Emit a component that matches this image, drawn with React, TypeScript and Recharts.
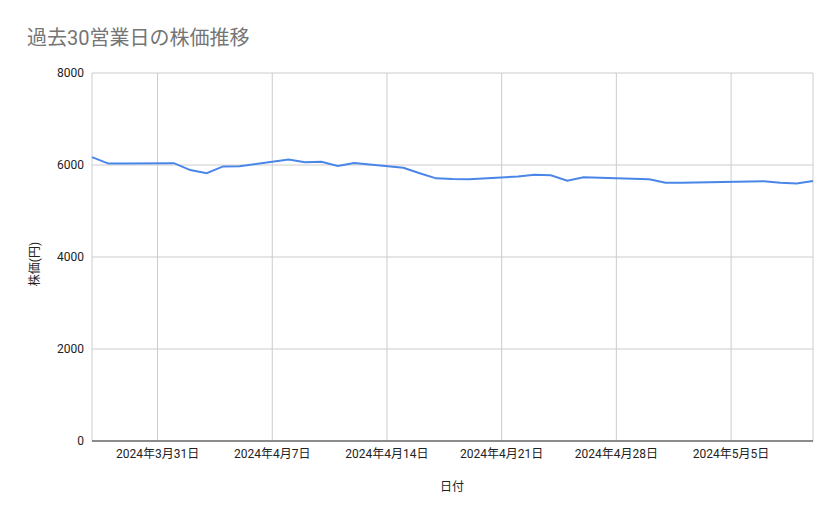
import React from "react";
import { LineChart, Line, XAxis, YAxis, CartesianGrid } from "recharts";

const dates = [
  "2024-03-27", "2024-03-28", "2024-03-29",
  "2024-04-01", "2024-04-02", "2024-04-03", "2024-04-04", "2024-04-05",
  "2024-04-08", "2024-04-09", "2024-04-10", "2024-04-11", "2024-04-12",
  "2024-04-15", "2024-04-16", "2024-04-17", "2024-04-18", "2024-04-19",
  "2024-04-22", "2024-04-23", "2024-04-24", "2024-04-25", "2024-04-26",
  "2024-04-30", "2024-05-01", "2024-05-02",
  "2024-05-07", "2024-05-08", "2024-05-09", "2024-05-10",
];

const prices = [
  6170, 6030, 6035,
  6040, 5890, 5820, 5970, 5975,
  6120, 6060, 6070, 5980, 6045,
  5940, 5820, 5710, 5695, 5690,
  5750, 5790, 5775, 5660, 5735,
  5690, 5615, 5615,
  5645, 5615, 5600, 5650,
];

const tickDates = ["2024-03-31", "2024-04-07", "2024-04-14", "2024-04-21", "2024-04-28", "2024-05-05"];
const yTicks = [0, 2000, 4000, 6000, 8000];

const title = "過去30営業日の株価推移";
const xTitle = "日付";
const yTitle = "株価(円)";

const DAY = 86400000;
const toDay = (s: string) => {
  const [y, m, d] = s.split("-").map(Number);
  return Date.UTC(y, m - 1, d) / DAY;
};
const startDay = toDay(dates[0]);
const endDay = toDay(dates[dates.length - 1]);

const data = dates.map((d, i) => ({ t: toDay(d), price: prices[i] }));
const xTicks = tickDates.map(toDay);

const fmtDate = (v: number) => {
  const dt = new Date(v * DAY);
  return `${dt.getUTCFullYear()}年${dt.getUTCMonth() + 1}月${dt.getUTCDate()}日`;
};

const FONT = "Roboto, 'Noto Sans CJK JP', sans-serif";

export default function App() {
  return (
    <div style={{ position: "absolute", left: 0, top: 0, width: 839, height: 519, background: "#fff", fontFamily: FONT }}>
      <div style={{ position: "absolute", left: 27, top: 25, fontSize: 20, color: "#757575", whiteSpace: "nowrap", lineHeight: "26px" }}>
        {title}
      </div>
      <div style={{ position: "absolute", left: 452, top: 485, transform: "translate(-50%, -50%)", fontSize: 12, color: "#222", whiteSpace: "nowrap" }}>
        {xTitle}
      </div>
      <div style={{ position: "absolute", left: 33, top: 264, transform: "translate(-50%, -50%) rotate(-90deg)", fontSize: 12, color: "#222", whiteSpace: "nowrap" }}>
        {yTitle}
      </div>
      <LineChart
        width={839}
        height={519}
        data={data}
        margin={{ top: 73, right: 26, bottom: 48, left: 32 }}
      >
        <CartesianGrid stroke="#cccccc" strokeWidth={1} />
        <XAxis
          dataKey="t"
          type="number"
          domain={[startDay, endDay]}
          ticks={xTicks}
          tickFormatter={fmtDate}
          height={30}
          tickSize={0}
          tickMargin={8}
          axisLine={{ stroke: "#333333", strokeWidth: 1 }}
          tick={{ fontSize: 12, fill: "#222222", fontFamily: FONT }}
          interval={0}
        />
        <YAxis
          type="number"
          domain={[0, 8000]}
          ticks={yTicks}
          width={60}
          tickSize={0}
          tickMargin={8}
          axisLine={false}
          tick={{ fontSize: 12, fill: "#222222", fontFamily: FONT }}
        />
        <Line
          type="linear"
          dataKey="price"
          stroke="#4a86e8"
          strokeWidth={2}
          dot={false}
          activeDot={false}
          isAnimationActive={false}
        />
      </LineChart>
    </div>
  );
}
